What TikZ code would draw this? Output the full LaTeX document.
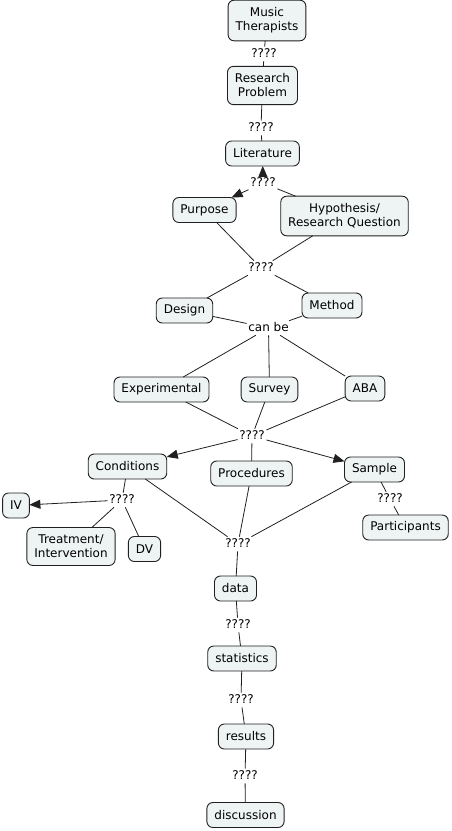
\documentclass[tikz,border=0pt]{standalone}
\usepackage{fontspec}
\setmainfont{DejaVu Sans}
\usetikzlibrary{arrows.meta}
\definecolor{boxfill}{HTML}{EEF3F4}
\definecolor{boxdraw}{HTML}{202020}
\tikzset{
  concept/.style={draw=boxdraw, fill=boxfill, rounded corners=6pt, line width=0.9pt,
    font=\fontsize{12}{14}\selectfont, align=center, inner xsep=7.5pt, inner ysep=3pt,
    minimum height=25pt, outer sep=0pt},
  twoline/.style={inner ysep=7.5pt},
  link/.style={font=\fontsize{12}{14}\selectfont, inner sep=1.5pt, text height=8.7pt, text depth=2.5pt},
  conn/.style={draw=boxdraw, line width=0.8pt},
  arr/.style={conn, -{Triangle[length=11pt,width=9pt]}}
}
\begin{document}
\begin{tikzpicture}[x=1pt,y=-1pt]
\useasboundingbox (0,0) rectangle (451,831);
% concepts
\node[concept,twoline] (mt) at (267,20.5) {Music\\Therapists};
\node[concept,twoline] (rp) at (262.5,85.5) {Research\\Problem};
\node[concept] (lit) at (262.5,153.5) {Literature};
\node[concept] (pur) at (204.5,210) {Purpose};
\node[concept,twoline] (hyp) at (344.5,216) {Hypothesis/\\Research Question};
\node[concept] (des) at (184.5,310.5) {Design};
\node[concept] (met) at (332,305.5) {Method};
\node[concept] (exp) at (161.5,389.5) {Experimental};
\node[concept] (sur) at (269.5,389.5) {Survey};
\node[concept] (aba) at (365,388.5) {ABA};
\node[concept] (con) at (127.5,466.5) {Conditions};
\node[concept] (pro) at (251.5,473.5) {Procedures};
\node[concept] (sam) at (374.5,469.5) {Sample};
\node[concept] (iv) at (16,505.5) {IV};
\node[concept,twoline] (tre) at (71,546.5) {Treatment/\\Intervention};
\node[concept] (dv) at (144.5,549) {DV};
\node[concept] (par) at (405.5,527.5) {Participants};
\node[concept] (dat) at (235.5,588.5) {data};
\node[concept] (sta) at (242,658.5) {statistics};
\node[concept] (res) at (246,736.5) {results};
\node[concept] (dis) at (245.5,815) {discussion};
% link labels
\node[link] (l1) at (264,54) {????};
\node[link] (l2) at (261,128) {????};
\node[link] (l3) at (263,183) {????};
\node[link] (l4) at (261,268) {????};
\node[link] (l5) at (268.5,328) {can be};
\node[link] (l6) at (252,436) {????};
\node[link] (l7) at (122,500) {????};
\node[link] (l8) at (390,499) {????};
\node[link] (l9) at (238,544) {????};
\node[link] (l10) at (238,625) {????};
\node[link] (l11) at (241,700) {????};
\node[link] (l12) at (245,776) {????};
% connectors
\draw[conn] (mt) -- (l1); \draw[conn] (l1) -- (rp);
\draw[conn] (rp) -- (l2); \draw[conn] (l2) -- (lit);
\draw[arr] (l3) -- (lit);
\draw[arr] (l3) -- (pur);
\draw[conn] (hyp) -- (l3);
\draw[conn] (pur) -- (l4); \draw[conn] (hyp) -- (l4);
\draw[conn] (l4) -- (des); \draw[conn] (l4) -- (met);
\draw[conn] (des) -- (l5); \draw[conn] (met) -- (l5);
\draw[conn] (l5) -- (exp); \draw[conn] (l5) -- (sur); \draw[conn] (l5) -- (aba);
\draw[conn] (exp) -- (l6); \draw[conn] (sur) -- (l6); \draw[conn] (aba) -- (l6);
\draw[arr] (l6) -- (con);
\draw[conn] (l6) -- (pro);
\draw[arr] (l6) -- (sam);
\draw[conn] (con) -- (l7);
\draw[arr] (l7) -- (iv);
\draw[conn] (l7) -- (tre); \draw[conn] (l7) -- (dv);
\draw[conn] (sam) -- (l8); \draw[conn] (l8) -- (par);
\draw[conn] (con) -- (l9); \draw[conn] (pro) -- (l9); \draw[conn] (sam) -- (l9);
\draw[conn] (l9) -- (dat);
\draw[conn] (dat) -- (l10); \draw[conn] (l10) -- (sta);
\draw[conn] (sta) -- (l11); \draw[conn] (l11) -- (res);
\draw[conn] (res) -- (l12); \draw[conn] (l12) -- (dis);
\end{tikzpicture}
\end{document}
